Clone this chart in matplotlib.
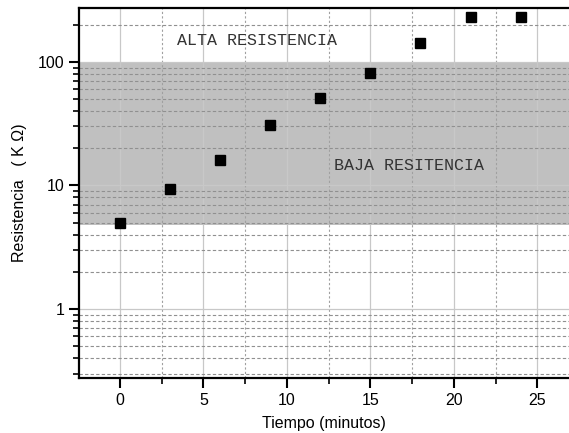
import matplotlib
matplotlib.use("Agg")
from matplotlib import pyplot as plt
from matplotlib.ticker import LogLocator, NullFormatter, FixedLocator, FixedFormatter

# data
tiempo = [0, 3, 6, 9, 12, 15, 18, 21, 24]
resistencia = [5.0, 9.4, 16.0, 31.0, 51.0, 82.0, 142.0, 231.0, 231.0]

baja_min = 4.8
baja_max = 100

plt.rcParams['font.family'] = ['Liberation Sans', 'DejaVu Sans']

fig = plt.figure(figsize=(5.69, 4.33), dpi=100)
ax = fig.add_axes([0.139, 0.127, 0.861, 0.855])

ax.set_yscale('log')
ax.set_xlim(-2.45, 26.9)
ax.set_ylim(0.276, 274)

# shaded band for low resistance
ax.axhspan(baja_min, baja_max, color='#c0c0c0', zorder=0, lw=0)

ax.plot(tiempo, resistencia, 's', color='black', markersize=7.5, zorder=5)

# ticks
ax.xaxis.set_major_locator(FixedLocator([0, 5, 10, 15, 20, 25]))
ax.xaxis.set_minor_locator(FixedLocator([2.5, 7.5, 12.5, 17.5, 22.5]))
ax.yaxis.set_major_locator(FixedLocator([1, 10, 100]))
ax.yaxis.set_major_formatter(FixedFormatter(['1', '10', '100']))
ax.yaxis.set_minor_locator(LogLocator(base=10, subs=range(2, 10)))
ax.yaxis.set_minor_formatter(NullFormatter())

ax.tick_params(which='major', direction='out', length=7, width=1.5, labelsize=11.5, colors='black')
ax.tick_params(which='minor', direction='out', length=4, width=1.2)

# grid
ax.grid(which='major', color='#c8c8c8', linestyle='-', linewidth=0.9, zorder=1)
ax.grid(which='minor', axis='y', color='#909090', linestyle=(0, (3, 2)), linewidth=0.8, zorder=1)
ax.grid(which='minor', axis='x', color='#a0a0a0', linestyle=(0, (2, 2)), linewidth=0.8, zorder=1)
ax.set_axisbelow(True)

for s in ['left', 'bottom', 'top']:
    ax.spines[s].set_linewidth(1.6)
ax.spines['right'].set_visible(False)

ax.text(8.2, 148, 'ALTA RESISTENCIA', family='Liberation Mono', fontsize=12,
        va='center', ha='center', color='#333333')
ax.text(17.3, 14.4, 'BAJA RESITENCIA', family='Liberation Mono', fontsize=12,
        va='center', ha='center', color='#333333')

ax.set_xlabel('Tiempo (minutos)', fontsize=11.5, labelpad=6)
ax.set_ylabel('Resistencia   ( K Ω)', fontsize=11.5, labelpad=8)

fig.savefig('out.png', dpi=100)
